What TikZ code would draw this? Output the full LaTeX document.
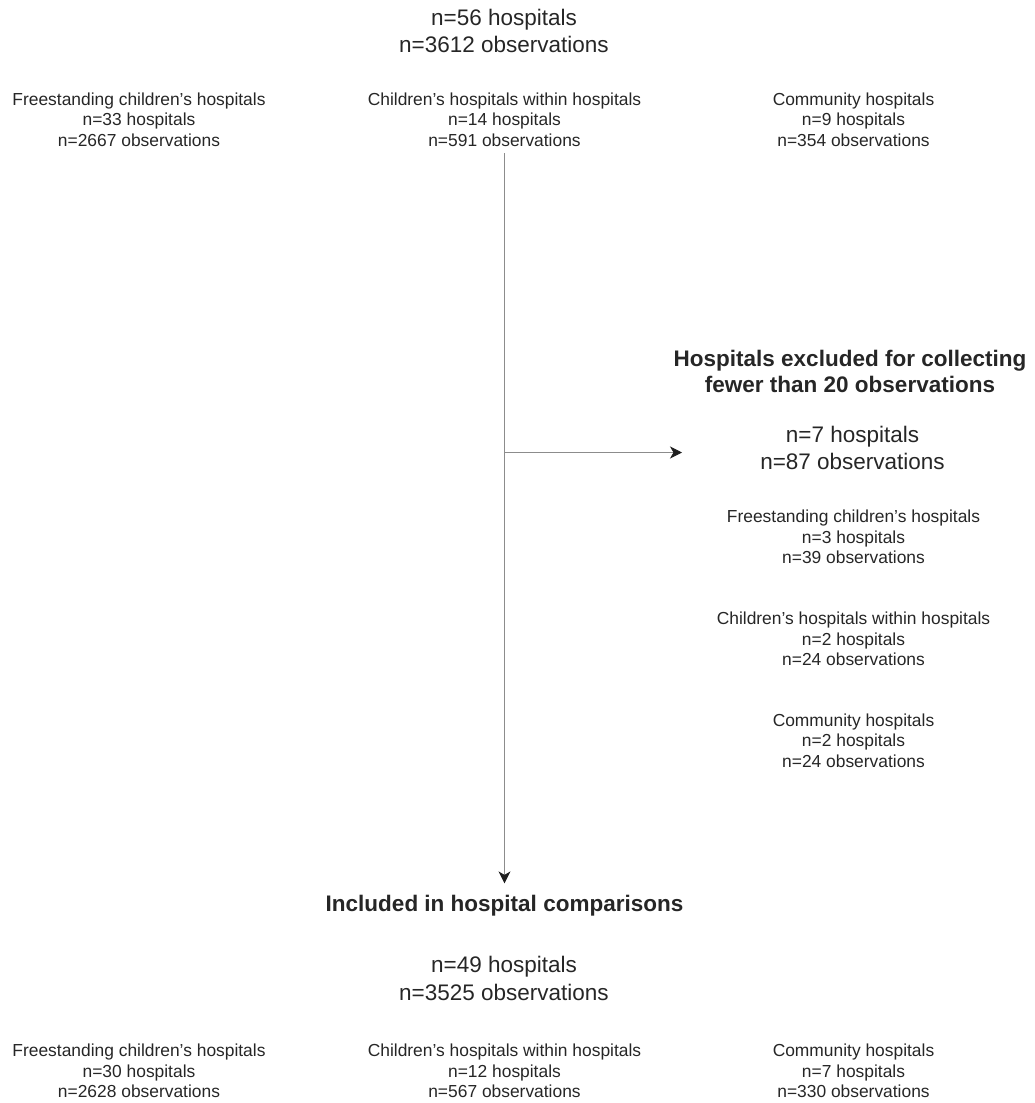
\documentclass[tikz,border=0pt]{standalone}
\usepackage{fontspec}
\setmainfont{Liberation Sans}
\usetikzlibrary{arrows.meta}
\begin{document}
\begin{tikzpicture}[x=1pt,y=-1pt,
  txt/.style={inner sep=0pt, outer sep=0pt, align=center, anchor=north, text=black!85},
  big/.style={txt, font=\fontsize{22.5}{27.3}\selectfont},
  small/.style={txt, font=\fontsize{17.4}{20.5}\selectfont},
  bigbold/.style={txt, font=\fontsize{22.5}{26.7}\selectfont\bfseries},
  conn/.style={draw=black!45, line width=0.9pt, -{Stealth[length=12pt,width=12pt,inset=3.5pt,color=black!88]}}]
\useasboundingbox (0,0) rectangle (1035,1103);
\node[big] (top) at (504,8.7) {n=56 hospitals\\n=3612 observations};
\node[small] (g1) at (139,92.8) {Freestanding children’s hospitals\\n=33 hospitals\\n=2667 observations};
\node[small] (g2) at (504.5,92.8) {Children’s hospitals within hospitals\\n=14 hospitals\\n=591 observations};
\node[small] (g3) at (853.5,92.8) {Community hospitals\\n=9 hospitals\\n=354 observations};
\node[bigbold] (exTitle) at (850,349.7) {Hospitals excluded for collecting\\fewer than 20 observations};
\node[big] (exN) at (852.5,426) {n=7 hospitals\\n=87 observations};
\node[small] (ex1) at (853.5,510.3) {Freestanding children’s hospitals\\n=3 hospitals\\n=39 observations};
\node[small] (ex2) at (853.5,612.3) {Children’s hospitals within hospitals\\n=2 hospitals\\n=24 observations};
\node[small] (ex3) at (853.5,713.8) {Community hospitals\\n=2 hospitals\\n=24 observations};
\node[bigbold] (inTitle) at (504.5,895.4) {Included in hospital comparisons};
\node[big] (inN) at (504,956.4) {n=49 hospitals\\n=3525 observations};
\node[small] (b1) at (139,1044.3) {Freestanding children’s hospitals\\n=30 hospitals\\n=2628 observations};
\node[small] (b2) at (504.5,1044.3) {Children’s hospitals within hospitals\\n=12 hospitals\\n=567 observations};
\node[small] (b3) at (853.5,1044.3) {Community hospitals\\n=7 hospitals\\n=330 observations};
\draw[conn, shorten <=6.5pt, shorten >=12pt] (g2.south) -- (g2.south |- inTitle.north);
\coordinate (lvl) at (0,452.5);
\coordinate (branch) at (g2.south |- lvl);
\coordinate (extip) at (682,452.5);
\draw[conn] (branch) -- (extip);
\end{tikzpicture}
\end{document}
